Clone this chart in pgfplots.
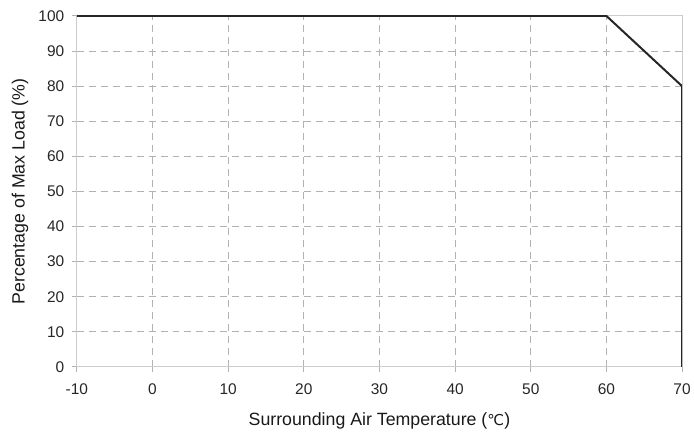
\documentclass[border=0pt]{standalone}
\usepackage{fontspec}
\setmainfont{Liberation Sans}
\newfontfamily\symfont{DejaVu Sans}
\usepackage{pgfplots}
\pgfplotsset{compat=1.18}
\begin{document}
\begin{tikzpicture}
\begin{axis}[
    name=ax,
    scale only axis,
    width=607pt, height=352pt,
    xmin=-10, xmax=70,
    ymin=0, ymax=100,
    xtick={-10,0,...,70},
    ytick={0,10,...,100},
    grid=major,
    grid style={dash pattern=on 7pt off 5pt, gray!60, line width=1pt},
    axis line style={gray!40, line width=1pt},
    tick style={gray!60, line width=1pt},
    tick align=outside,
    major tick length=5pt,
    xtick pos=bottom, ytick pos=left,
    ticklabel style={font=\fontsize{15.5}{18}\selectfont, text=black!85},
    /pgf/number format/assume math mode=true,
    xticklabel style={yshift=-8pt},
    yticklabel style={xshift=-4pt},
    xlabel={Surrounding Air Temperature ({\symfont\fontsize{15}{18}\selectfont ℃})},
    ylabel={Percentage of Max Load (\%)},
    label style={font=\fontsize{17.8}{21}\selectfont, text=black!90},
    xlabel style={at={(axis description cs:0.5,-0.1534)}, anchor=center},
    ylabel style={at={(axis description cs:-0.0939,0.5)}, anchor=center, rotate=0},
]
\addplot[black!85, line width=2pt] coordinates {
    (-10,100) (60,100) (70,80) (70,0)
};
\end{axis}
\path (ax.south west) +(-77pt,-67pt);
\path (ax.north east) +(10pt,16pt);
\end{tikzpicture}
\end{document}
